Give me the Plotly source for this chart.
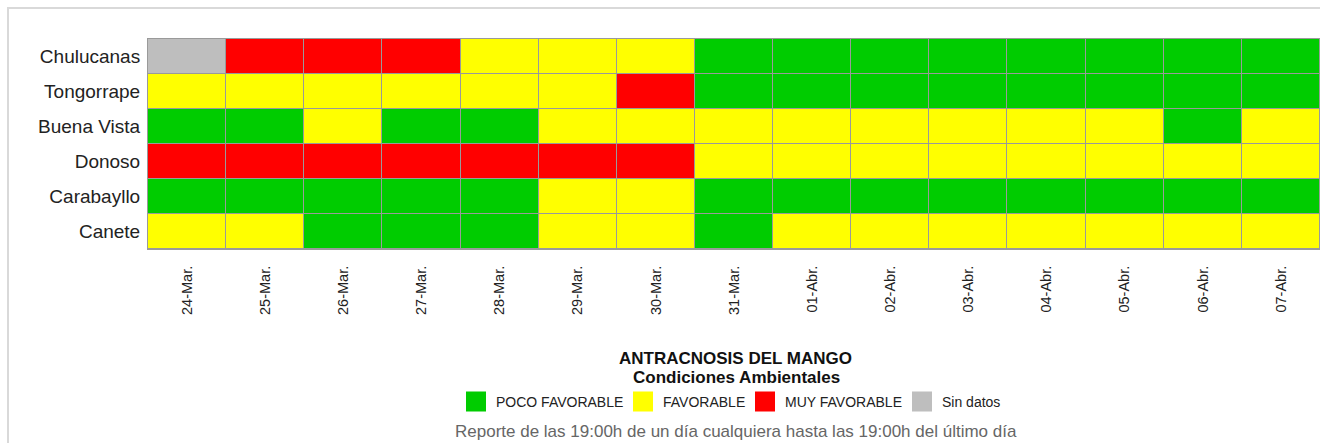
import plotly.graph_objects as go

dates = ["24-Mar.", "25-Mar.", "26-Mar.", "27-Mar.", "28-Mar.", "29-Mar.", "30-Mar.",
         "31-Mar.", "01-Abr.", "02-Abr.", "03-Abr.", "04-Abr.", "05-Abr.", "06-Abr.", "07-Abr."]
stations = ["Chulucanas", "Tongorrape", "Buena Vista", "Donoso", "Carabayllo", "Canete"]

# 0 = POCO FAVORABLE, 1 = FAVORABLE, 2 = MUY FAVORABLE, 3 = Sin datos
chulucanas = [3, 2, 2, 2, 1, 1, 1, 0, 0, 0, 0, 0, 0, 0, 0]
tongorrape = [1, 1, 1, 1, 1, 1, 2, 0, 0, 0, 0, 0, 0, 0, 0]
buena_vista = [0, 0, 1, 0, 0, 1, 1, 1, 1, 1, 1, 1, 1, 0, 1]
donoso = [2, 2, 2, 2, 2, 2, 2, 1, 1, 1, 1, 1, 1, 1, 1]
carabayllo = [0, 0, 0, 0, 0, 1, 1, 0, 0, 0, 0, 0, 0, 0, 0]
canete = [1, 1, 0, 0, 0, 1, 1, 0, 1, 1, 1, 1, 1, 1, 1]

categories = ["POCO FAVORABLE", "FAVORABLE", "MUY FAVORABLE", "Sin datos"]
colors = ["#00CC00", "#FFFF00", "#FF0000", "#BEBEBE"]

title_line1 = "ANTRACNOSIS DEL MANGO"
title_line2 = "Condiciones Ambientales"
subtitle = "Reporte de las 19:00h de un día cualquiera hasta las 19:00h del último día"

z = [chulucanas, tongorrape, buena_vista, donoso, carabayllo, canete]

colorscale = []
n = len(colors)
for i, c in enumerate(colors):
    colorscale.append([i / n, c])
    colorscale.append([(i + 1) / n, c])

fig = go.Figure()
fig.add_trace(go.Heatmap(
    z=z, x=dates, y=stations,
    zmin=-0.5, zmax=3.5,
    colorscale=colorscale, showscale=False,
    xgap=1, ygap=1, hoverinfo="skip",
))

# page pixel -> paper coords (plot area spans x 148..1320, y 39..249 on the page)
def px_x(p):
    return (p - 148) / 1172.0

def px_y(p):
    return (249 - p) / 210.0

# each legend entry in its own legend so spacing matches the reference
text_starts = [496, 663, 785, 942]
legend_ids = ["legend", "legend2", "legend3", "legend4"]
legend_layouts = {}
for name, c, ts, lid in zip(categories, colors, text_starts, legend_ids):
    fig.add_trace(go.Scatter(
        x=[None], y=[None], mode="markers", name=name, legend=lid, showlegend=True,
        marker=dict(symbol="square", size=16, color=c, line=dict(color=c, width=4)),
    ))
    legend_layouts[lid] = dict(
        orientation="h", x=px_x(ts - 40), xanchor="left",
        y=px_y(402), yanchor="middle",
        font=dict(size=14, color="#222222"),
        itemsizing="trace", bgcolor="rgba(0,0,0,0)", borderwidth=0,
    )

fig.update_layout(
    width=1320, height=443,
    margin=dict(l=148, r=0, t=39, b=194),
    paper_bgcolor="white",
    plot_bgcolor="#9a9a9a",
    font=dict(family="Liberation Sans, Arial, sans-serif", color="#222222"),
    xaxis=dict(
        type="category", tickangle=-90, tickfont=dict(size=14.5),
        showgrid=False, zeroline=False, ticks="", ticklabelstandoff=10,
        showline=True, mirror=True, linecolor="#9a9a9a", linewidth=1,
    ),
    yaxis=dict(
        type="category", autorange="reversed", tickfont=dict(size=19),
        showgrid=False, zeroline=False, ticks="", ticklabelstandoff=3,
        showline=True, mirror=True, linecolor="#9a9a9a", linewidth=1,
    ),
    showlegend=True,
    annotations=[
        dict(text="<b>" + title_line1 + "</b>", xref="paper", yref="paper",
             x=px_x(735), y=px_y(358), xanchor="center", yanchor="middle",
             showarrow=False, font=dict(size=17, color="#111111")),
        dict(text="<b>" + title_line2 + "</b>", xref="paper", yref="paper",
             x=px_x(736), y=px_y(377), xanchor="center", yanchor="middle",
             showarrow=False, font=dict(size=17, color="#111111")),
        dict(text=subtitle, xref="paper", yref="paper",
             x=px_x(736), y=px_y(431), xanchor="center", yanchor="middle",
             showarrow=False, font=dict(size=17, color="#666666")),
    ],
    shapes=[dict(
        type="rect", xref="paper", yref="paper",
        x0=px_x(8), x1=px_x(1400), y0=px_y(500), y1=px_y(8),
        line=dict(color="#d9d9d9", width=2), fillcolor="rgba(0,0,0,0)", layer="below",
    )],
    **legend_layouts,
)

fig.write_html(
    "out.html",
    config={"displayModeBar": False},
    post_script="document.body.style.margin='0px';document.documentElement.style.overflow='hidden';document.body.style.overflow='hidden';",
)
